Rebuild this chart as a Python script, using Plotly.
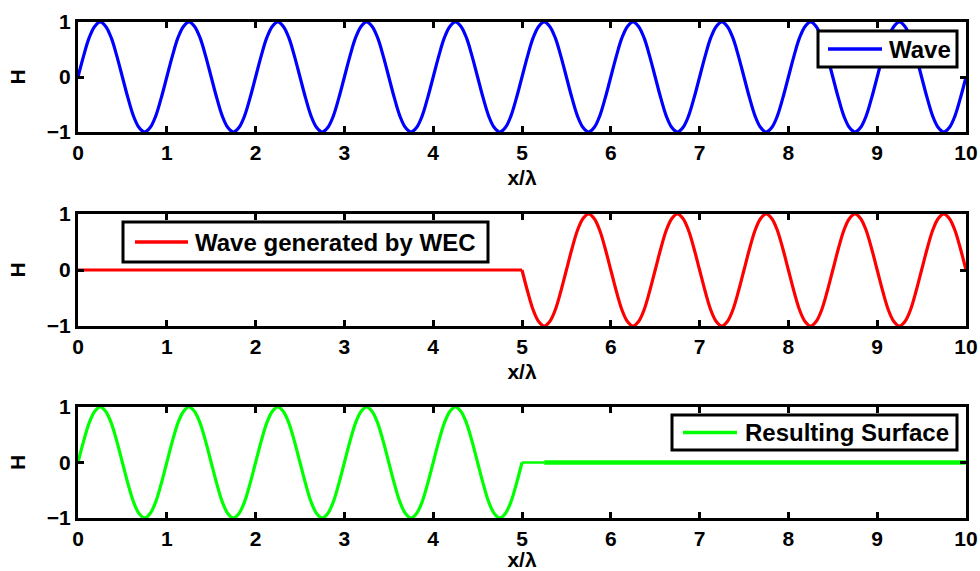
import plotly.graph_objects as go

# ---- data: surface elevation H against x/λ, sampled every 1/16 wavelength ----
wave_x = [
    0, 0.0625, 0.125, 0.1875, 0.25, 0.3125, 0.375, 0.4375, 0.5, 0.5625, 0.625, 0.6875, 0.75, 0.8125, 0.875, 0.9375,
    1, 1.0625, 1.125, 1.1875, 1.25, 1.3125, 1.375, 1.4375, 1.5, 1.5625, 1.625, 1.6875, 1.75, 1.8125, 1.875, 1.9375,
    2, 2.0625, 2.125, 2.1875, 2.25, 2.3125, 2.375, 2.4375, 2.5, 2.5625, 2.625, 2.6875, 2.75, 2.8125, 2.875, 2.9375,
    3, 3.0625, 3.125, 3.1875, 3.25, 3.3125, 3.375, 3.4375, 3.5, 3.5625, 3.625, 3.6875, 3.75, 3.8125, 3.875, 3.9375,
    4, 4.0625, 4.125, 4.1875, 4.25, 4.3125, 4.375, 4.4375, 4.5, 4.5625, 4.625, 4.6875, 4.75, 4.8125, 4.875, 4.9375,
    5, 5.0625, 5.125, 5.1875, 5.25, 5.3125, 5.375, 5.4375, 5.5, 5.5625, 5.625, 5.6875, 5.75, 5.8125, 5.875, 5.9375,
    6, 6.0625, 6.125, 6.1875, 6.25, 6.3125, 6.375, 6.4375, 6.5, 6.5625, 6.625, 6.6875, 6.75, 6.8125, 6.875, 6.9375,
    7, 7.0625, 7.125, 7.1875, 7.25, 7.3125, 7.375, 7.4375, 7.5, 7.5625, 7.625, 7.6875, 7.75, 7.8125, 7.875, 7.9375,
    8, 8.0625, 8.125, 8.1875, 8.25, 8.3125, 8.375, 8.4375, 8.5, 8.5625, 8.625, 8.6875, 8.75, 8.8125, 8.875, 8.9375,
    9, 9.0625, 9.125, 9.1875, 9.25, 9.3125, 9.375, 9.4375, 9.5, 9.5625, 9.625, 9.6875, 9.75, 9.8125, 9.875, 9.9375,
    10,
]
wave_h = [
    0, 0.38, 0.71, 0.92, 1, 0.92, 0.71, 0.38, 0, -0.38, -0.71, -0.92, -1, -0.92, -0.71, -0.38,
    0, 0.38, 0.71, 0.92, 1, 0.92, 0.71, 0.38, 0, -0.38, -0.71, -0.92, -1, -0.92, -0.71, -0.38,
    0, 0.38, 0.71, 0.92, 1, 0.92, 0.71, 0.38, 0, -0.38, -0.71, -0.92, -1, -0.92, -0.71, -0.38,
    0, 0.38, 0.71, 0.92, 1, 0.92, 0.71, 0.38, 0, -0.38, -0.71, -0.92, -1, -0.92, -0.71, -0.38,
    0, 0.38, 0.71, 0.92, 1, 0.92, 0.71, 0.38, 0, -0.38, -0.71, -0.92, -1, -0.92, -0.71, -0.38,
    0, 0.38, 0.71, 0.92, 1, 0.92, 0.71, 0.38, 0, -0.38, -0.71, -0.92, -1, -0.92, -0.71, -0.38,
    0, 0.38, 0.71, 0.92, 1, 0.92, 0.71, 0.38, 0, -0.38, -0.71, -0.92, -1, -0.92, -0.71, -0.38,
    0, 0.38, 0.71, 0.92, 1, 0.92, 0.71, 0.38, 0, -0.38, -0.71, -0.92, -1, -0.92, -0.71, -0.38,
    0, 0.38, 0.71, 0.92, 1, 0.92, 0.71, 0.38, 0, -0.38, -0.71, -0.92, -1, -0.92, -0.71, -0.38,
    0, 0.38, 0.71, 0.92, 1, 0.92, 0.71, 0.38, 0, -0.38, -0.71, -0.92, -1, -0.92, -0.71, -0.38,
    0,
]

# WEC-generated wave: still water up to x/λ = 5, then an opposing wave train
wec_still_x = [0, 5]
wec_still_h = [0, 0]
wec_x = [
    5, 5.0625, 5.125, 5.1875, 5.25, 5.3125, 5.375, 5.4375, 5.5, 5.5625, 5.625, 5.6875, 5.75, 5.8125, 5.875, 5.9375,
    6, 6.0625, 6.125, 6.1875, 6.25, 6.3125, 6.375, 6.4375, 6.5, 6.5625, 6.625, 6.6875, 6.75, 6.8125, 6.875, 6.9375,
    7, 7.0625, 7.125, 7.1875, 7.25, 7.3125, 7.375, 7.4375, 7.5, 7.5625, 7.625, 7.6875, 7.75, 7.8125, 7.875, 7.9375,
    8, 8.0625, 8.125, 8.1875, 8.25, 8.3125, 8.375, 8.4375, 8.5, 8.5625, 8.625, 8.6875, 8.75, 8.8125, 8.875, 8.9375,
    9, 9.0625, 9.125, 9.1875, 9.25, 9.3125, 9.375, 9.4375, 9.5, 9.5625, 9.625, 9.6875, 9.75, 9.8125, 9.875, 9.9375,
    10,
]
wec_h = [
    0, -0.38, -0.71, -0.92, -1, -0.92, -0.71, -0.38, 0, 0.38, 0.71, 0.92, 1, 0.92, 0.71, 0.38,
    0, -0.38, -0.71, -0.92, -1, -0.92, -0.71, -0.38, 0, 0.38, 0.71, 0.92, 1, 0.92, 0.71, 0.38,
    0, -0.38, -0.71, -0.92, -1, -0.92, -0.71, -0.38, 0, 0.38, 0.71, 0.92, 1, 0.92, 0.71, 0.38,
    0, -0.38, -0.71, -0.92, -1, -0.92, -0.71, -0.38, 0, 0.38, 0.71, 0.92, 1, 0.92, 0.71, 0.38,
    0, -0.38, -0.71, -0.92, -1, -0.92, -0.71, -0.38, 0, 0.38, 0.71, 0.92, 1, 0.92, 0.71, 0.38,
    0,
]

# Resulting surface: incident wave up to x/λ = 5, calm water behind the WEC
surf_x = [
    0, 0.0625, 0.125, 0.1875, 0.25, 0.3125, 0.375, 0.4375, 0.5, 0.5625, 0.625, 0.6875, 0.75, 0.8125, 0.875, 0.9375,
    1, 1.0625, 1.125, 1.1875, 1.25, 1.3125, 1.375, 1.4375, 1.5, 1.5625, 1.625, 1.6875, 1.75, 1.8125, 1.875, 1.9375,
    2, 2.0625, 2.125, 2.1875, 2.25, 2.3125, 2.375, 2.4375, 2.5, 2.5625, 2.625, 2.6875, 2.75, 2.8125, 2.875, 2.9375,
    3, 3.0625, 3.125, 3.1875, 3.25, 3.3125, 3.375, 3.4375, 3.5, 3.5625, 3.625, 3.6875, 3.75, 3.8125, 3.875, 3.9375,
    4, 4.0625, 4.125, 4.1875, 4.25, 4.3125, 4.375, 4.4375, 4.5, 4.5625, 4.625, 4.6875, 4.75, 4.8125, 4.875, 4.9375,
    5,
]
surf_h = [
    0, 0.38, 0.71, 0.92, 1, 0.92, 0.71, 0.38, 0, -0.38, -0.71, -0.92, -1, -0.92, -0.71, -0.38,
    0, 0.38, 0.71, 0.92, 1, 0.92, 0.71, 0.38, 0, -0.38, -0.71, -0.92, -1, -0.92, -0.71, -0.38,
    0, 0.38, 0.71, 0.92, 1, 0.92, 0.71, 0.38, 0, -0.38, -0.71, -0.92, -1, -0.92, -0.71, -0.38,
    0, 0.38, 0.71, 0.92, 1, 0.92, 0.71, 0.38, 0, -0.38, -0.71, -0.92, -1, -0.92, -0.71, -0.38,
    0, 0.38, 0.71, 0.92, 1, 0.92, 0.71, 0.38, 0, -0.38, -0.71, -0.92, -1, -0.92, -0.71, -0.38,
    0,
]
surf_join_x = [5, 5.25]
surf_join_h = [0, 0]
surf_calm_x = [5.25, 10]
surf_calm_h = [0, 0]

x_ticks = [0, 1, 2, 3, 4, 5, 6, 7, 8, 9, 10]
y_ticks = [-1, 0, 1]
x_title = "x/λ"
y_title = "H"
legend_labels = ["Wave", "Wave generated by WEC", "Resulting Surface"]

BLUE, RED, GREEN = "#0000FF", "#FF0000", "#00FF00"
FONT = "Liberation Sans, Arial, sans-serif"

# ---- page geometry (pixels) ----
W, H = 980, 571
L, R, T, B = 78, 14, 22, 53
PW, PH = W - L - R, H - T - B


def px_x(p):
    return (p - L) / PW


def px_y(p):
    return (H - B - p) / PH


panel_rows = [(22, 132), (214, 326), (407, 518)]

fig = go.Figure()


def add_line(x, y, axis, color, width, shape):
    fig.add_trace(go.Scatter(
        x=x, y=y, mode="lines", xaxis="x" + axis, yaxis="y" + axis,
        line=dict(color=color, width=width, shape=shape, smoothing=1),
        showlegend=False, hoverinfo="skip",
    ))


add_line(wave_x, wave_h, "", BLUE, 3.2, "spline")
add_line(wec_still_x, wec_still_h, "2", RED, 3.2, "linear")
add_line(wec_x, wec_h, "2", RED, 3.2, "spline")
add_line(surf_x, surf_h, "3", GREEN, 3.2, "spline")
add_line(surf_join_x, surf_join_h, "3", GREEN, 2.5, "linear")
add_line(surf_calm_x, surf_calm_h, "3", GREEN, 4.5, "linear")

axis_font = dict(family=FONT, size=21, color="black", weight="bold")
layout = dict(
    width=W, height=H,
    margin=dict(l=L, r=R, t=T, b=B, autoexpand=False),
    paper_bgcolor="white", plot_bgcolor="white",
    font=dict(family=FONT, color="black"),
    showlegend=False,
)
suffixes = ["", "2", "3"]
for i, (top, bot) in enumerate(panel_rows):
    s = suffixes[i]
    layout["xaxis" + s] = dict(
        domain=[0, 1], anchor="y" + s, range=[0, 10], automargin=False,
        tickmode="array", tickvals=x_ticks,
        ticks="inside", ticklen=6, tickwidth=2.5, tickcolor="black",
        showline=True, linewidth=3, linecolor="black", mirror="ticks",
        showgrid=False, zeroline=False, tickfont=axis_font,
        title=dict(text=x_title, font=axis_font, standoff=8),
    )
    layout["yaxis" + s] = dict(
        domain=[px_y(bot), px_y(top)], anchor="x" + s, range=[-1, 1],
        automargin=False,
        tickmode="array", tickvals=y_ticks,
        ticks="inside", ticklen=6, tickwidth=2.5, tickcolor="black",
        showline=True, linewidth=3, linecolor="black", mirror="ticks",
        showgrid=False, zeroline=False, tickfont=axis_font,
        title=dict(text=y_title, font=axis_font, standoff=16),
    )
fig.update_layout(**layout)

# ---- boxed legends, one per panel ----
legend_boxes = [
    ((818, 31, 957, 67), (828, 882), 887, BLUE),
    ((123, 222, 488, 262), (135, 188), 193, RED),
    ((672, 415, 957, 450), (683, 737), 743, GREEN),
]
for label, (box, (lx0, lx1), tx, color) in zip(legend_labels, legend_boxes):
    x0, y0, x1, y1 = box
    ym = (y0 + y1) / 2
    fig.add_shape(type="rect", xref="paper", yref="paper",
                  x0=px_x(x0), x1=px_x(x1), y0=px_y(y1), y1=px_y(y0),
                  line=dict(color="black", width=3), fillcolor="white",
                  layer="above")
    fig.add_shape(type="line", xref="paper", yref="paper",
                  x0=px_x(lx0), x1=px_x(lx1), y0=px_y(ym), y1=px_y(ym),
                  line=dict(color=color, width=3.5), layer="above")
    fig.add_annotation(text=label, xref="paper", yref="paper",
                       x=px_x(tx), y=px_y(ym), xanchor="left", yanchor="middle",
                       showarrow=False,
                       font=dict(family=FONT, size=24, color="black", weight="bold"))

fig.write_html("out.html")
